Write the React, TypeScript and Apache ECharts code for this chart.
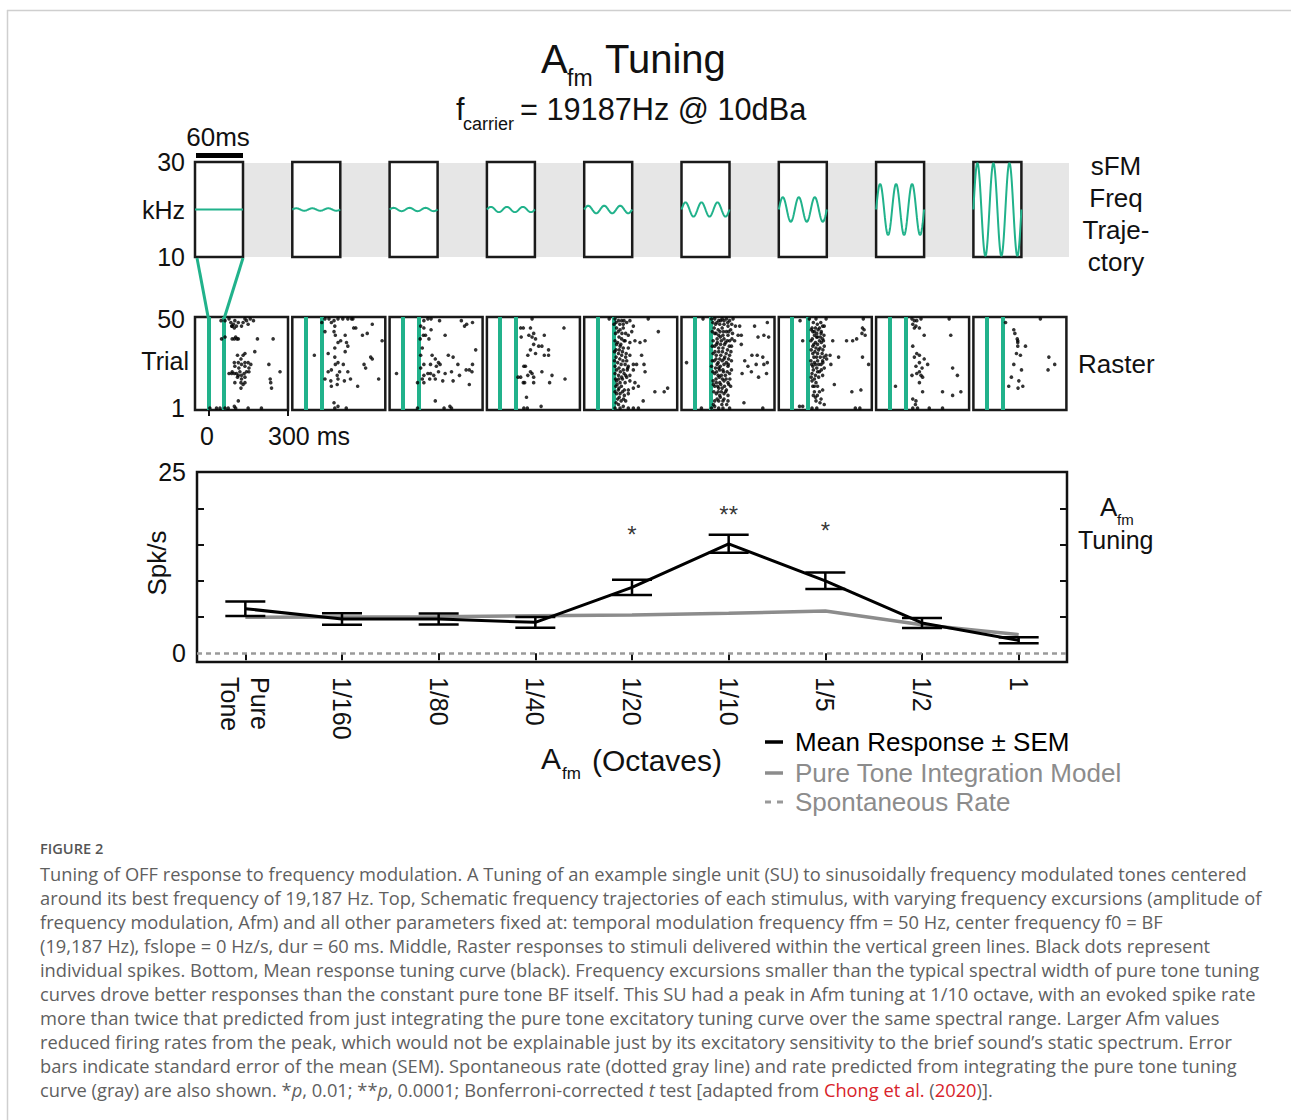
import React, { useEffect, useRef } from 'react';
import * as echarts from 'echarts';

// ---------------- DATA ----------------
const categories = ['Pure\nTone', '1/160', '1/80', '1/40', '1/20', '1/10', '1/5', '1/2', '1'];
const meanResponse = [6.15, 4.73, 4.73, 4.27, 9.09, 15.1, 10.0, 4.18, 1.79];
const semResponse = [1.0, 0.78, 0.75, 0.74, 1.05, 1.24, 1.15, 0.69, 0.41];
const pureToneModel = [4.96, 5.0, 5.05, 5.19, 5.28, 5.51, 5.83, 3.95, 2.57];
const spontaneousRate = 0.05;
const sigIndex = [4, 5, 6];
const sigMarks = ['*', '**', '*'];
const sigY = [16.4, 19.1, 16.9];
const yTickValues = [5, 10, 15, 20];
const yLabelValues = [0, 25];
const legendNames = ['Mean Response \u00b1 SEM', 'Pure Tone Integration Model', 'Spontaneous Rate'];

// sFM schematic: display amplitude (fraction of half panel height) for each Afm
const sfmAmplitude = [0, 0.025, 0.035, 0.055, 0.08, 0.15, 0.26, 0.54, 0.98];
const FM_RATE_HZ = 50;
const STIM_DUR_MS = 60;
const sfmLabels = ['10', 'kHz', '30'];

// raster spikes [ms, trial]
const raster1 = [[48,49],[63,49],[78,50],[85,48],[95,47],[100,49],[106,46],[113,48],[125,46],[131,48],[138,50],[144,49],[150,47],[158,50],[170,49],[90,46],[98,45],[88,46],[50,39],[63,40],[90,39],[98,39],[103,40],[108,39],[113,39],[185,39],[244,39],[110,30],[131,30],[138,31],[123,28],[98,26],[113,26],[125,25],[138,26],[150,26],[160,25],[175,32],[228,25],[100,24],[115,23],[138,24],[153,23],[90,21],[78,20],[88,20],[98,20],[106,20],[113,19],[119,21],[125,19],[135,20],[144,21],[153,21],[110,18],[125,17],[138,18],[100,15],[123,15],[131,14],[138,15],[123,12],[270,21],[233,17],[235,15],[238,12],[113,5],[6,1],[31,1],[44,1],[63,1],[75,1],[98,2],[103,1],[150,1],[200,1]];
const raster2 = [[61,48],[73,50],[88,50],[97,48],[107,49],[110,46],[122,50],[140,50],[159,50],[173,50],[178,50],[189,45],[251,47],[73,43],[107,43],[112,41],[149,41],[181,45],[214,41],[232,42],[288,38],[122,37],[132,38],[154,37],[159,35],[110,34],[149,32],[33,30],[85,31],[110,29],[122,26],[112,25],[142,25],[245,29],[251,28],[85,21],[97,22],[119,19],[128,21],[159,21],[220,25],[226,23],[73,17],[95,16],[122,17],[146,16],[169,17],[196,13],[275,17],[97,13],[119,14],[107,4],[122,2],[110,1],[153,1]];
const raster3 = [[79,49],[94,50],[106,50],[138,49],[67,46],[79,45],[106,44],[85,41],[98,39],[65,39],[77,41],[159,41],[220,49],[232,46],[240,47],[262,48],[73,34],[110,30],[122,28],[134,26],[140,25],[79,25],[104,25],[126,24],[171,30],[189,29],[274,33],[207,25],[262,25],[67,30],[67,23],[79,19],[94,20],[104,20],[116,19],[134,21],[159,20],[183,21],[213,19],[238,22],[250,22],[260,21],[73,17],[79,15],[101,17],[122,17],[150,16],[189,16],[250,14],[-24,20],[122,5],[155,1],[177,2],[183,1],[55,15],[55,1]];
const raster4 = [[120,50],[240,45],[77,45],[87,45],[114,45],[79,40],[108,41],[120,40],[126,42],[133,39],[166,41],[145,35],[157,35],[126,36],[114,33],[104,30],[133,31],[166,30],[182,33],[182,30],[89,24],[95,24],[114,21],[104,19],[120,20],[126,18],[157,21],[195,19],[244,17],[67,18],[77,18],[87,15],[92,15],[126,15],[186,15],[99,7],[154,2],[89,1],[102,1]];
const raster5 = [[44,50],[66,50],[79,49],[91,49],[97,47],[110,48],[122,49],[135,46],[191,50],[229,43],[72,45],[85,44],[97,45],[106,42],[116,41],[129,43],[81,40],[91,39],[104,38],[122,37],[141,38],[160,37],[179,38],[72,36],[85,35],[97,34],[116,34],[64,32],[79,31],[91,30],[106,29],[122,30],[166,30],[64,27],[76,26],[89,25],[104,25],[116,24],[135,25],[147,25],[175,25],[66,24],[81,23],[97,22],[114,23],[135,22],[66,20],[79,19],[91,18],[106,19],[122,19],[179,21],[72,16],[85,15],[104,15],[122,16],[141,15],[69,13],[81,12],[101,11],[116,11],[135,12],[154,13],[72,9],[85,9],[101,8],[116,9],[216,10],[251,10],[264,12],[76,6],[89,5],[106,5],[172,5],[79,3],[97,2],[116,1],[135,1],[154,1],[66,1],[85,1],
  [62,47],[70,48],[84,47],[100,49],[68,42],[78,43],[92,42],[66,38],[76,37],[88,36],[100,38],[70,33],[82,33],[94,32],[108,31],[70,29],[84,28],[96,27],[110,27],[72,22],[86,21],[100,20],[112,22],[68,17],[80,17],[94,17],[110,18],[74,14],[90,13],[66,10],[78,11],[94,10],[82,7],[98,6],[70,4]];
const raster6 = [[31,50],[63,50],[75,50],[90,49],[103,50],[119,50],[131,49],[144,50],[78,47],[94,47],[110,47],[125,46],[73,45],[88,44],[103,45],[119,43],[135,44],[153,46],[169,46],[225,46],[273,48],[75,42],[90,41],[106,41],[125,41],[163,41],[175,41],[238,40],[260,41],[278,40],[69,38],[85,37],[100,38],[116,37],[131,38],[150,38],[175,36],[75,35],[90,34],[106,34],[123,33],[138,35],[69,31],[81,30],[98,30],[113,29],[131,30],[215,30],[235,30],[256,29],[73,27],[88,26],[103,27],[119,26],[138,27],[188,27],[273,26],[200,24],[231,25],[260,25],[63,24],[78,23],[90,23],[106,22],[125,24],[75,20],[88,19],[100,19],[115,19],[131,20],[178,20],[213,21],[270,20],[240,18],[69,16],[81,15],[94,15],[110,16],[125,15],[75,13],[90,12],[103,12],[119,11],[135,13],[81,9],[94,8],[110,9],[125,8],[75,5],[90,5],[106,5],[125,5],[185,4],[75,2],[90,1],[106,1],[131,1],[63,1],[25,1],[-31,26],[256,1],
  [68,48],[83,48],[97,49],[110,49],[124,48],[139,47],[66,43],[80,42],[95,43],[108,43],[128,43],[142,42],[84,39],[96,40],[110,39],[122,38],[140,39],[66,35],[82,36],[97,36],[112,36],[130,35],[76,32],[90,32],[104,32],[118,31],[136,32],[66,27],[80,28],[94,28],[110,28],[127,28],[84,25],[96,24],[110,25],[126,25],[68,21],[82,21],[94,22],[108,21],[122,21],[138,22],[80,17],[92,18],[104,17],[118,17],[132,17],[70,14],[86,13],[98,14],[112,13],[128,14],[72,10],[88,10],[100,10],[116,10],[84,6],[96,7],[110,6],[120,3],[70,3],[102,3]];
const raster7 = [[30,49],[65,50],[90,50],[128,50],[268,50],[75,45],[88,45],[103,45],[115,46],[121,46],[78,43],[93,42],[109,42],[84,41],[96,40],[115,39],[40,38],[71,38],[88,37],[103,38],[118,38],[153,38],[205,38],[228,38],[243,39],[265,45],[271,44],[263,42],[275,41],[78,35],[90,34],[105,34],[121,35],[78,31],[96,31],[113,31],[128,30],[143,30],[175,29],[265,29],[71,27],[84,26],[96,27],[115,27],[130,28],[78,24],[93,23],[109,25],[121,23],[146,25],[288,25],[75,20],[88,19],[103,21],[115,19],[75,16],[90,15],[84,13],[159,14],[225,10],[259,11],[84,10],[103,10],[115,11],[88,7],[109,6],[90,5],[105,4],[121,3],[28,2],[40,2],[75,1],[93,1],[238,1],[255,1],
  [80,48],[95,47],[108,48],[72,44],[84,43],[98,44],[110,43],[76,39],[92,40],[106,40],[120,41],[82,36],[96,36],[110,37],[72,33],[86,32],[100,33],[116,33],[82,29],[92,29],[106,29],[120,29],[74,25],[88,25],[100,25],[116,26],[80,22],[96,21],[110,22],[72,18],[84,17],[100,18],[78,13],[96,13],[80,8],[95,8]];
const raster8 = [[85,50],[94,49],[103,49],[119,50],[225,50],[88,47],[100,46],[113,45],[94,45],[131,41],[231,41],[88,35],[103,31],[113,30],[94,29],[131,28],[113,26],[144,25],[100,24],[123,23],[238,23],[256,19],[85,19],[103,20],[113,21],[119,19],[125,18],[113,15],[23,13],[125,10],[200,10],[269,10],[238,8],[88,6],[100,5],[98,3],[88,1],[106,1],[150,1],[200,1]];
const raster9 = [[71,48],[202,50],[102,44],[106,42],[115,39],[117,38],[117,37],[117,35],[146,35],[112,31],[127,30],[102,25],[131,22],[234,29],[256,25],[231,22],[93,18],[121,16],[83,13],[118,12],[136,13]];
const rasters = [raster1, raster2, raster3, raster4, raster5, raster6, raster7, raster8, raster9];

// ---------------- STYLE / LAYOUT ----------------
const FF = '"Liberation Sans", Arial, Helvetica, sans-serif';
const CF = '"Open Sans", sans-serif';
const GREEN = '#21b28b';
const INK = '#111';
const GRAY = '#8c8c8c';
const CAP = '#5f5f5f';
const PX0 = 195;
const PSTEP = 97.3;
const CAPSIZE = 18.3;

const captionLines = [
  'Tuning of OFF response to frequency modulation. A Tuning of an example single unit (SU) to sinusoidally frequency modulated tones centered',
  'around its best frequency of 19,187 Hz. Top, Schematic frequency trajectories of each stimulus, with varying frequency excursions (amplitude of',
  'frequency modulation, Afm) and all other parameters fixed at: temporal modulation frequency ffm = 50 Hz, center frequency f0 = BF',
  '(19,187 Hz), fslope = 0 Hz/s, dur = 60 ms. Middle, Raster responses to stimuli delivered within the vertical green lines. Black dots represent',
  'individual spikes. Bottom, Mean response tuning curve (black). Frequency excursions smaller than the typical spectral width of pure tone tuning',
  'curves drove better responses than the constant pure tone BF itself. This SU had a peak in Afm tuning at 1/10 octave, with an evoked spike rate',
  'more than twice that predicted from just integrating the pure tone excitatory tuning curve over the same spectral range. Larger Afm values',
  'reduced firing rates from the peak, which would not be explainable just by its excitatory sensitivity to the brief sound\u2019s static spectrum. Error',
  'bars indicate standard error of the mean (SEM). Spontaneous rate (dotted gray line) and rate predicted from integrating the pure tone tuning',
  'curve (gray) are also shown. *{i|p}, 0.01; **{i|p}, 0.0001; Bonferroni-corrected {i|t} test [adapted from {r|Chong et al.} ({r|2020})].',
];

function txt(text: string, x: number, y: number, size: number, extra: any = {}, family = FF) {
  const align = extra.align || 'left';
  const font = extra.font || `${size}px ${family}`;
  return {
    type: 'text',
    x,
    y,
    silent: true,
    style: {
      text,
      font,
      fill: extra.fill || INK,
      align,
      textAlign: align,
      verticalAlign: 'middle',
      textVerticalAlign: 'middle',
      lineHeight: extra.lineHeight,
      rich: extra.rich,
    },
  };
}

function buildOption() {
  const grids: any[] = [];
  const xAxes: any[] = [];
  const yAxes: any[] = [];
  const series: any[] = [];

  // sFM schematic panels
  for (let i = 0; i < 9; i++) {
    grids.push({
      left: PX0 + i * PSTEP, top: 162, width: 48, height: 95,
      show: true, backgroundColor: '#fff', borderColor: '#1a1a1a', borderWidth: 2.5,
    });
    xAxes.push({ gridIndex: i, type: 'value', min: 0, max: STIM_DUR_MS, show: false });
    yAxes.push({
      gridIndex: i, type: 'value', min: -1, max: 1, interval: 1, show: i === 0,
      axisLine: { show: false }, axisTick: { show: false }, splitLine: { show: false },
      axisLabel: {
        show: i === 0, fontSize: 25, color: INK, margin: 10, fontFamily: FF,
        formatter: (v: number) => sfmLabels[Math.round(v) + 1],
      },
    });
    const pts: number[][] = [];
    for (let k = 0; k <= 240; k++) {
      const t = (k / 240) * STIM_DUR_MS;
      pts.push([t, sfmAmplitude[i] * Math.sin(2 * Math.PI * FM_RATE_HZ * t / 1000)]);
    }
    series.push({
      type: 'line', xAxisIndex: i, yAxisIndex: i, data: pts, symbol: 'none', silent: true,
      lineStyle: { color: GREEN, width: 2 }, z: 3,
    });
  }

  // raster panels
  for (let i = 0; i < 9; i++) {
    const g = 9 + i;
    grids.push({
      left: PX0 + i * PSTEP, top: 317, width: 93, height: 93,
      show: true, backgroundColor: '#fff', borderColor: '#1a1a1a', borderWidth: 2.5,
    });
    xAxes.push({
      gridIndex: g, type: 'value', min: -50, max: 300, show: i === 0,
      axisLine: { show: false }, splitLine: { show: false }, axisLabel: { show: false },
      axisTick: { show: i === 0, customValues: [0, 300], length: 6, lineStyle: { color: INK, width: 2 } },
    });
    yAxes.push({
      gridIndex: g, type: 'value', min: 0, max: 51, show: i === 0,
      axisLine: { show: false }, axisTick: { show: false }, splitLine: { show: false },
      axisLabel: { show: i === 0, customValues: [1, 50], fontSize: 25, color: INK, margin: 10, fontFamily: FF },
    });
    series.push({
      type: 'scatter', xAxisIndex: g, yAxisIndex: g, data: rasters[i], symbolSize: 3.6, silent: true,
      itemStyle: { color: '#000' }, z: 3,
      markLine: {
        silent: true, symbol: ['none', 'none'], label: { show: false },
        lineStyle: { color: GREEN, width: 4, type: 'solid' },
        data: [{ xAxis: 0 }, { xAxis: STIM_DUR_MS }],
        z: 2,
      },
    });
  }

  // tuning curve
  const G = 18;
  grids.push({
    left: 197, top: 472, width: 870, height: 190, show: true,
    backgroundColor: 'transparent', borderColor: INK, borderWidth: 2.5,
  });
  xAxes.push({
    gridIndex: G, type: 'category', data: categories, boundaryGap: true,
    axisLine: { show: false }, axisTick: { show: false }, splitLine: { show: false },
    axisLabel: { interval: 0, rotate: -90, fontSize: 25, color: INK, margin: 15, lineHeight: 30, fontFamily: FF },
  });
  xAxes.push({
    gridIndex: G, type: 'category', data: categories, position: 'top', boundaryGap: true,
    axisLine: { show: false }, splitLine: { show: false }, axisLabel: { show: false, interval: 0 },
    axisTick: { show: true, inside: true, interval: 0, alignWithLabel: true, length: 7, lineStyle: { color: INK, width: 2 } },
  });
  yAxes.push({
    gridIndex: G, type: 'value', min: -1.2, max: 25,
    axisLine: { show: false }, splitLine: { show: false },
    axisTick: { show: true, inside: true, customValues: yTickValues, length: 7, lineStyle: { color: INK, width: 2 } },
    axisLabel: { customValues: yLabelValues, fontSize: 25, color: INK, margin: 11, fontFamily: FF },
  });
  yAxes.push({
    gridIndex: G, type: 'value', min: -1.2, max: 25, position: 'right',
    axisLine: { show: false }, splitLine: { show: false }, axisLabel: { show: false },
    axisTick: { show: true, inside: true, customValues: yTickValues, length: 7, lineStyle: { color: INK, width: 2 } },
  });

  series.push({
    name: legendNames[1], type: 'line', xAxisIndex: 18, yAxisIndex: 18,
    data: pureToneModel, symbol: 'none', lineStyle: { color: GRAY, width: 3.5 }, itemStyle: { color: GRAY }, z: 3, silent: true,
  });
  series.push({
    name: legendNames[2], type: 'line', xAxisIndex: 18, yAxisIndex: 18, data: [], symbol: 'none',
    lineStyle: { color: '#999', width: 3, type: [5, 4] }, itemStyle: { color: '#999' }, z: 2, silent: true,
    markLine: {
      silent: true, symbol: ['none', 'none'], label: { show: false },
      lineStyle: { color: '#9a9a9a', width: 2.5, type: [5, 4] },
      data: [{ yAxis: spontaneousRate }],
    },
  });
  series.push({
    name: legendNames[0], type: 'line', xAxisIndex: 18, yAxisIndex: 18,
    data: meanResponse, symbol: 'none', lineStyle: { color: '#000', width: 3 }, itemStyle: { color: '#000' }, z: 5, silent: true,
  });
  series.push({
    name: 'SEM', type: 'custom', xAxisIndex: 18, yAxisIndex: 18, z: 6, silent: true,
    data: meanResponse.map((m, i) => [i, m - semResponse[i], m + semResponse[i]]),
    encode: { x: 0, y: [1, 2] },
    renderItem: (params: any, api: any) => {
      const x = api.value(0);
      const lo = api.coord([x, api.value(1)]);
      const hi = api.coord([x, api.value(2)]);
      const w = 20;
      const st = { stroke: '#000', lineWidth: 2.5 };
      return {
        type: 'group',
        children: [
          { type: 'line', shape: { x1: lo[0], y1: lo[1], x2: hi[0], y2: hi[1] }, style: st },
          { type: 'line', shape: { x1: lo[0] - w, y1: lo[1], x2: lo[0] + w, y2: lo[1] }, style: st },
          { type: 'line', shape: { x1: hi[0] - w, y1: hi[1], x2: hi[0] + w, y2: hi[1] }, style: st },
        ],
      };
    },
  });
  series.push({
    name: 'sig', type: 'scatter', xAxisIndex: 18, yAxisIndex: 18, silent: true, z: 7,
    data: sigIndex.map((c, k) => [c, sigY[k]]), symbolSize: 1, itemStyle: { color: 'rgba(0,0,0,0)' },
    label: {
      show: true, position: 'inside', fontSize: 24, color: '#000', fontFamily: FF,
      formatter: (p: any) => sigMarks[p.dataIndex],
    },
  });

  const graphics: any[] = [
    // page frame
    { type: 'line', silent: true, shape: { x1: 7, y1: 10.5, x2: 1291, y2: 10.5 }, style: { stroke: '#cfcfcf', lineWidth: 1.5 } },
    { type: 'line', silent: true, shape: { x1: 7.5, y1: 10, x2: 7.5, y2: 1120 }, style: { stroke: '#cfcfcf', lineWidth: 1.5 } },
    // gray band behind sFM panels
    { type: 'rect', silent: true, z: -1, shape: { x: 196, y: 163, width: 873, height: 94 }, style: { fill: '#e6e6e6' } },
    // 60 ms scale bar
    { type: 'rect', silent: true, shape: { x: 196, y: 153, width: 47, height: 5 }, style: { fill: '#000' } },
    // connectors from panel 1 to raster 1
    { type: 'line', silent: true, z: 5, shape: { x1: 197, y1: 258, x2: 208.3, y2: 318 }, style: { stroke: GREEN, lineWidth: 3 } },
    { type: 'line', silent: true, z: 5, shape: { x1: 243, y1: 258, x2: 224.3, y2: 318 }, style: { stroke: GREEN, lineWidth: 3 } },
    // titles
    txt('A', 541, 59, 40),
    txt('fm', 567, 78, 23),
    txt('Tuning', 605, 59, 40),
    txt('f', 456, 109, 30.5),
    txt('carrier', 463, 124, 18),
    txt('= 19187Hz @ 10dBa', 520, 109, 30.7),
    txt('60ms', 218, 137, 26, { align: 'center' }),
    txt('sFM\nFreq\nTraje-\nctory', 1116, 214, 26, { align: 'center', lineHeight: 31.7 }),
    txt('Trial', 189, 361, 25, { align: 'right' }),
    txt('Raster', 1078, 364, 26),
    txt('0', 207, 436, 25, { align: 'center' }),
    txt('300 ms', 268, 436, 25),
    txt('A', 1100, 507, 26),
    txt('fm', 1117, 519, 15),
    txt('Tuning', 1078, 540, 25),
    {
      type: 'text', silent: true, x: 157, y: 563, rotation: Math.PI / 2,
      style: { text: 'Spk/s', font: `26px ${FF}`, fill: INK, align: 'center', textAlign: 'center', verticalAlign: 'middle', textVerticalAlign: 'middle' },
    },
    txt('A', 541, 758, 30),
    txt('fm', 562, 773, 17),
    txt('(Octaves)', 592, 760, 30),
    // legend
    { type: 'line', silent: true, shape: { x1: 765, y1: 742, x2: 783, y2: 742 }, style: { stroke: '#000', lineWidth: 3.5 } },
    { type: 'line', silent: true, shape: { x1: 765, y1: 773, x2: 783, y2: 773 }, style: { stroke: GRAY, lineWidth: 3.5 } },
    { type: 'line', silent: true, shape: { x1: 765, y1: 802, x2: 783, y2: 802 }, style: { stroke: '#999', lineWidth: 3, lineDash: [6, 6] } },
    txt(legendNames[0], 795, 742, 26, { fill: '#000' }),
    txt(legendNames[1], 795, 773, 26, { fill: GRAY }),
    txt(legendNames[2], 795, 802, 26, { fill: GRAY }),
    // caption
    txt('FIGURE 2', 40, 848, 14.6, { font: `600 14.6px ${CF}`, fill: '#555' }),
  ];
  captionLines.forEach((line, k) => {
    graphics.push(
      txt(line, 40, 873 + 24 * k, CAPSIZE, {
        fill: CAP,
        rich: {
          i: { font: `italic ${CAPSIZE}px ${CF}`, fill: CAP },
          r: { font: `${CAPSIZE}px ${CF}`, fill: '#d8232a' },
        },
      }, CF)
    );
  });

  return {
    animation: false,
    backgroundColor: '#fff',
    textStyle: { fontFamily: FF },
    grid: grids,
    xAxis: xAxes,
    yAxis: yAxes,
    series,
    graphic: { elements: graphics },
  };
}

export default function App() {
  const ref = useRef<HTMLDivElement>(null);
  useEffect(() => {
    document.body.style.margin = '0';
    if (!ref.current) return;
    const chart = echarts.init(ref.current, undefined, { renderer: 'svg' });
    chart.setOption(buildOption() as any);
    return () => chart.dispose();
  }, []);
  return <div ref={ref} style={{ width: 1291, height: 1120 }} />;
}
